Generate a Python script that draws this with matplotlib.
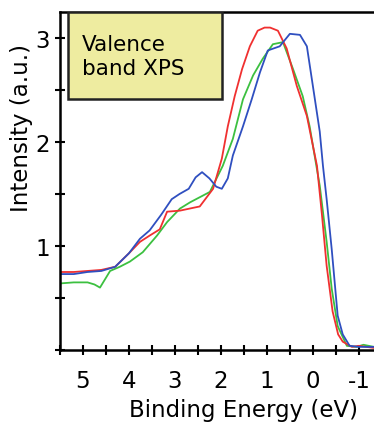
import matplotlib
matplotlib.use('Agg')
import matplotlib.pyplot as plt
from matplotlib.patches import Rectangle
from matplotlib.ticker import MultipleLocator

plt.rcParams['font.family'] = ['DejaVu Sans']

# 结合能 (eV) 与强度 (a.u.)
blue_x = [5.5, 5.2, 4.9, 4.6, 4.3, 4.0, 3.76, 3.55, 3.3, 3.07, 2.9, 2.7, 2.55, 2.41, 2.25, 2.1, 1.98,
          1.85, 1.74, 1.52, 1.33, 1.15, 0.98, 0.85, 0.72, 0.5, 0.28, 0.13, 0.0, -0.15, -0.22,
          -0.3, -0.41, -0.54, -0.65, -0.8, -1.0, -1.33]
blue_y = [0.73, 0.73, 0.75, 0.76, 0.8, 0.93, 1.07, 1.15, 1.3, 1.45, 1.5, 1.55, 1.66, 1.71, 1.65, 1.57, 1.55,
          1.65, 1.87, 2.15, 2.41, 2.67, 2.88, 2.9, 2.92, 3.04, 3.03, 2.92, 2.54, 2.1, 1.77,
          1.45, 0.97, 0.33, 0.15, 0.04, 0.03, 0.03]

red_x = [5.5, 5.2, 4.9, 4.6, 4.3, 4.0, 3.76, 3.55, 3.33, 3.17, 2.89, 2.57, 2.46, 2.17, 1.98, 1.85,
         1.7, 1.54, 1.37, 1.2, 1.05, 0.93, 0.76, 0.57, 0.35, 0.13, -0.09, -0.2, -0.3, -0.43,
         -0.55, -0.65, -0.85, -1.0, -1.33]
red_y = [0.75, 0.75, 0.76, 0.77, 0.8, 0.93, 1.04, 1.1, 1.16, 1.33, 1.34, 1.37, 1.38, 1.55, 1.84, 2.15,
         2.44, 2.7, 2.92, 3.07, 3.1, 3.1, 3.07, 2.9, 2.54, 2.25, 1.77, 1.29, 0.81, 0.37,
         0.15, 0.08, 0.03, 0.04, 0.02]

green_x = [5.5, 5.2, 4.9, 4.75, 4.63, 4.41, 4.2, 3.98, 3.7, 3.39, 3.17, 2.89, 2.67, 2.24, 1.96,
           1.74, 1.52, 1.3, 1.09, 0.87, 0.65, 0.43, 0.22, 0.07, -0.15, -0.3, -0.41, -0.54,
           -0.74, -0.95, -1.1, -1.33]
green_y = [0.64, 0.65, 0.65, 0.63, 0.6, 0.76, 0.8, 0.85, 0.94, 1.1, 1.23, 1.36, 1.42, 1.52, 1.77,
           2.03, 2.41, 2.64, 2.8, 2.94, 2.96, 2.7, 2.44, 2.15, 1.58, 1.04, 0.59, 0.23,
           0.04, 0.03, 0.05, 0.03]

x_ticks = [5, 4, 3, 2, 1, 0, -1]
y_ticks = [1, 2, 3]

fig = plt.figure(figsize=(3.74, 4.27), dpi=100)
ax = fig.add_axes([0.1604, 0.178, 0.8396, 0.7916])

ax.plot(green_x, green_y, color='#3cc040', lw=1.3)
ax.plot(red_x, red_y, color='#f03030', lw=1.3)
ax.plot(blue_x, blue_y, color='#2f4fc0', lw=1.3)

ax.set_xlim(5.5, -1.33)
ax.set_ylim(0, 3.25)

ax.set_xticks(x_ticks)
ax.set_xticklabels([str(v) for v in x_ticks])
ax.set_yticks(y_ticks)
ax.set_yticklabels([str(v) for v in y_ticks])
ax.xaxis.set_minor_locator(MultipleLocator(0.5))
ax.yaxis.set_minor_locator(MultipleLocator(0.5))
ax.tick_params(which='both', direction='inout', length=7, width=1.5, labelsize=16.5)
ax.tick_params(axis='x', pad=10)
ax.tick_params(axis='y', pad=4)

for s in ['left', 'bottom', 'top']:
    ax.spines[s].set_linewidth(1.8)
ax.spines['right'].set_visible(False)

ax.set_xlabel('Binding Energy (eV)', fontsize=16.5, va='center')
ax.xaxis.set_label_coords(0.583, -0.175)
ax.set_ylabel('Intensity (a.u.)', fontsize=16.5, va='center')
ax.yaxis.set_label_coords(-0.121, 0.66)

# 图例框
ax.add_patch(Rectangle((0.025, 0.743), 0.49, 0.257, transform=ax.transAxes,
                       facecolor='#eeeca0', edgecolor='#222222', lw=1.8, zorder=5))
ax.text(0.07, 0.87, 'Valence\nband XPS', transform=ax.transAxes, fontsize=15.5,
        va='center', ha='left', linespacing=1.2, zorder=6)

fig.savefig('out.png', dpi=100)
